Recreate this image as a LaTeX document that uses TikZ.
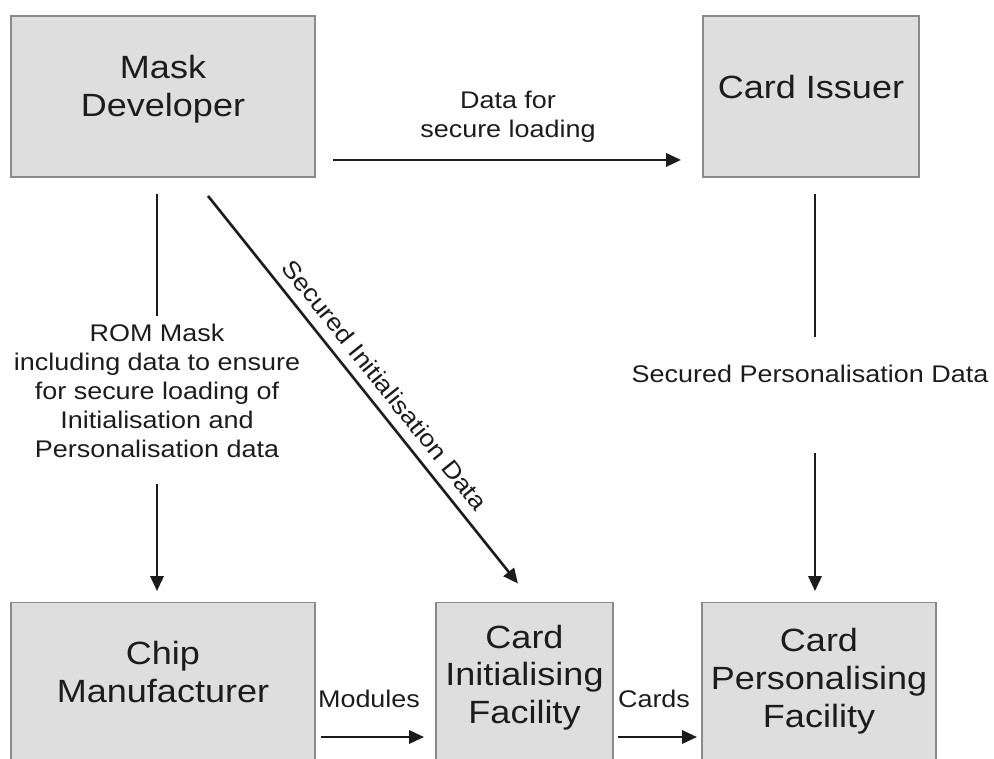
\documentclass[tikz,border=0pt]{standalone}
\usepackage{fontspec}
\setmainfont[FakeStretch=1.12]{Liberation Sans}
\usetikzlibrary{positioning}
\usetikzlibrary{calc}
\usetikzlibrary{arrows.meta}

\definecolor{boxfill}{HTML}{DEDEDE}
\definecolor{boxline}{HTML}{8A8A8A}
\definecolor{ink}{HTML}{1C1C1C}

\begin{document}
\begin{tikzpicture}[x=0.02cm, y=0.02cm,
        party/.style={rectangle, fill=boxfill, draw=boxline, line width=1.1pt, minimum height=3.22cm, inner sep=0pt},
        partytext/.style={align=center, text=ink, font=\fontsize{18.3}{21.5}\selectfont},
        flowtext/.style={align=center, text=ink, font=\fontsize{13.7}{16.6}\selectfont, inner sep=0pt},
        flowline/.style={draw=ink, line width=1.5pt},
        flow/.style={flowline, -{Triangle[length=8.5pt, width=7.5pt]}}]

        \useasboundingbox (0,0) rectangle (994,-758);
        \clip (0,0) rectangle (994,-758);

        % Definindo caixas
        \foreach \pos/\name/\boxw/\lift/\txt in {{(163,-96.5)/mask/6.08/0.15/{Mask\\Developer}},
                                                {(811,-96.5)/issuer/4.32/0.19/{Card Issuer}},
                                                {(163,-683)/chip/6.08/0.22/{Chip\\Manufacturer}},
                                                {(524.5,-683)/init/3.54/0.11/{Card\\Initialising\\Facility}},
                                                {(819,-683)/perso/4.68/0.04/{Card\\Personalising\\Facility}}}
            \node[party, minimum width=\boxw cm, label={[partytext, yshift=\lift cm]center:\txt}] (\name) at \pos {};

        % Definindo textos dos fluxos
        \node[flowtext] (load) at (508,-117) {Data for\\secure loading};
        \node[flowtext] (rom) at (157,-391) {ROM Mask\\including data to ensure\\for secure loading of\\Initialisation and\\Personalisation data};
        \node[flowtext] (spd) at (810,-374) {Secured Personalisation Data};
        \node[flowtext] (modules) at (369,-698.5) {Modules};
        \node[flowtext] (cards) at (654,-698.5) {Cards};

        % Definindo fluxos
        \draw[flow] ($(mask.south east)+(17,18)$) -- ($(issuer.south west)+(-21,18)$);
        \draw[flowline] ($(mask.south -| rom.north)+(0,-16)$) -- ($(rom.north)+(0,7)$);
        \draw[flow] ($(rom.south)+(0,-25)$) -- ($(chip.north -| rom.south)+(0,10.5)$);
        \draw[flow] ($(mask.south)+(45,-18)$) --
            node[flowtext, sloped, above=0.2cm, pos=0.52] (sid) {Secured Initialisation Data}
            ($(init.north)+(-6.5,18)$);
        \draw[flowline] ($(spd.north -| issuer.south)+(4,28)$) -- ($(issuer.south)+(4,-16)$);
        \draw[flow] ($(spd.south -| issuer.south)+(4,-70)$) -- ($(perso.north -| issuer.south)+(4,10.5)$);
        \draw[flow] ($(chip.east)+(5,-54)$) -- ($(init.west)+(-11,-54)$);
        \draw[flow] ($(init.east)+(4,-54)$) -- ($(perso.west)+(-4,-54)$);

    \end{tikzpicture}
\end{document}
